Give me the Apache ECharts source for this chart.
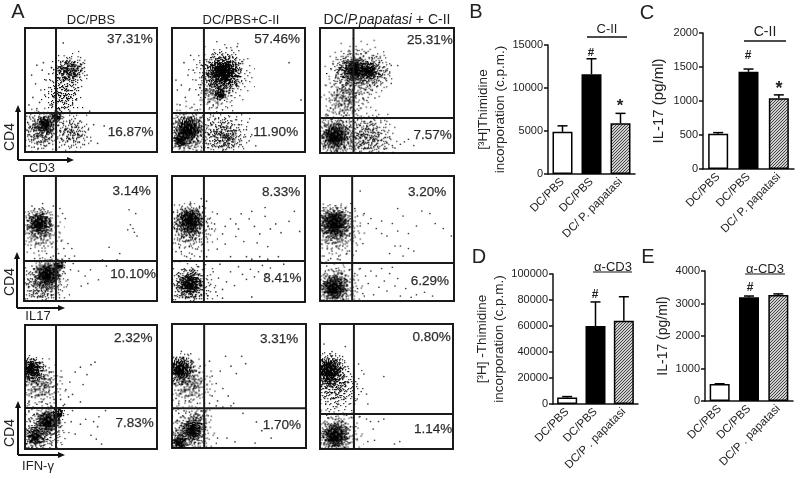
<!DOCTYPE html>
<html><head><meta charset="utf-8">
<style>html,body{margin:0;padding:0;background:#fff}#c{width:800px;height:479px}</style>
<script src="https://cdn.jsdelivr.net/npm/echarts@6/dist/echarts.min.js"></script>
</head><body><div id="c"></div>
<script>
// ---------- Bar panels ----------
const catsC2 = ['DC/PBS','DC/PBS','DC/ P. papatasi'];
const catsCD3 = ['DC/PBS','DC/PBS','DC/P . papatasi'];
const thymidineCII = [4900,11600,5900];
const thymidineCIITop = [5600,13400,7050];
const il17CII = [520,1430,1040];
const il17CIITop = [535,1470,1090];
const thymidineCD3 = [5000,60000,64000];
const thymidineCD3Top = [5700,78500,82500];
const il17CD3 = [520,3190,3260];
const il17CD3Top = [530,3230,3295];

// ---------- Flow cytometry percentages ----------
const pctUpper = ['37.31%','57.46%','25.31%','3.14%','8.33%','3.20%','2.32%','3.31%','0.80%'];
const pctLower = ['16.87%','11.90%','7.57%','10.10%','8.41%','6.29%','7.83%','1.70%','1.14%'];
const gateX = [23.5,24,25,24,24,24,23.5,24,25.5];
const gateY = [31.5,31.5,28,32,32.5,30.4,33,32,28];

// ---------- Flow cytometry events (x%, y% pairs) ----------
const dotsA1 = [26,66,28,63,30,68,31,60,33,70,34,64,35,67,36,61,37,72,38,66,39,62,40,69,41,64,42,71,29,58,32,55,27,72,34,74,37,58,43,66,44,72,25,60,31,73,36,69,33,58,40,58,45,68,28,69,30,64,35,62,24,50,27,48,29,52,31,46,33,50,35,44,30,40,26,42,28,36,32,36,36,38,38,47,34,33,25,35,40,52,22,44,37,52,39,42,5,62,9,70,13,66,8,55,12,50,16,58,18,63,20,68,6,44,11,40,15,46,18,52,3,38,9,35,19,38,21,57,14,72,3,5,5,10,7,14,9,8,11,18,13,12,15,22,17,16,19,26,4,20,6,25,8,20,10,26,12,6,14,28,16,10,18,20,20,12,21,30,3,14,7,4,10,3,2,24,13,17,16,25,19,30,22,28,21,24,15,5,18,7,26,4,28,10,30,6,33,14,35,4,37,9,39,20,41,8,43,13,45,6,27,17,29,23,31,19,34,25,36,16,38,27,47,12,48,18,50,9,42,25,52,22,55,7,32,9,26,26,29,88,47,62,49,33,60,21];
const dotsA2 = [28,72,30,66,32,62,34,74,36,68,38,78,40,60,42,72,44,66,46,76,48,62,50,70,33,56,35,52,37,48,39,44,41,54,43,50,30,52,28,58,26,64,25,44,27,40,31,38,34,36,38,34,36,42,44,58,47,56,52,66,53,73,45,82,49,85,41,84,9,72,12,62,7,54,14,78,16,66,4,50,10,44,18,58,20,46,22,70,6,38,15,36,19,34,21,52,3,58,13,50,2,20,3,8,4,28,5,14,6,3,7,24,8,10,9,30,10,5,11,16,12,27,13,7,14,22,15,12,16,29,17,4,18,18,19,26,20,9,21,20,22,28,3,24,5,6,8,18,11,22,13,3,16,16,18,6,20,25,22,13,26,7,28,14,30,22,32,5,34,18,36,9,38,24,40,13,42,4,44,19,46,8,48,15,50,22,52,6,54,12,56,18,33,12,35,24,37,16,39,6,41,21,43,11,45,25,47,17,58,9,60,14,28,26,31,29,57,24,63,5,97,42,88,72];
const dotsA3 = [20,72,18,64,22,68,24,60,26,74,28,62,30,76,32,66,34,58,36,72,38,62,40,70,42,64,44,68,46,74,48,60,50,66,16,70,14,66,12,62,23,54,25,50,27,46,29,56,31,52,33,48,35,42,37,54,39,50,41,44,19,52,17,48,15,56,21,42,13,50,23,36,26,34,29,38,32,44,8,36,11,42,6,30,16,38,18,32,28,82,34,80,40,78,45,76,52,64,58,70,4,6,6,14,8,22,10,4,12,10,14,18,16,26,18,5,20,13,22,21,3,24,5,18,7,9,9,27,11,16,13,6,15,23,17,11,19,19,21,8,23,25,2,12,24,16,26,5,28,14,30,22,32,8,34,17,36,4,38,12,40,20,42,7,44,15,46,10,48,3,50,8,52,13,54,6,56,4,60,7,63,9,66,11,25,26,33,24,38,25,70,6];
const dotsB1 = [4,70,6,62,8,74,10,56,12,66,14,78,16,60,18,72,20,64,22,76,7,52,9,46,11,40,13,50,15,44,17,38,19,52,21,46,5,42,4,54,22,36,20,35,12,34,8,34,14,70,18,55,6,76,3,64,27,74,29,70,31,66,26,60,28,48,33,46,30,42,26,38,34,34,36,42,31,36,38,36,2,24,4,8,5,18,6,28,7,4,8,14,9,24,10,6,11,18,12,28,13,10,14,3,15,20,16,13,18,8,19,26,20,16,21,5,22,22,23,12,3,14,7,21,10,12,12,22,25,26,27,20,29,28,31,22,33,17,35,25,37,30,41,24,43,12,46,20,48,14,50,25,56,17,59,33,62,28,72,38,70,33,79,73,84,70,80,61,82,58,83,55,85,52,78,57,64,43];
const dotsB2 = [4,58,6,70,8,52,10,74,12,60,14,78,16,68,18,56,20,72,22,64,5,46,7,40,9,48,11,36,13,44,15,38,17,50,19,42,21,36,23,46,3,62,22,82,23,76,3,40,26,80,28,66,27,60,30,58,32,62,34,70,38,54,40,60,44,66,48,62,50,58,54,48,58,66,62,60,66,54,70,68,74,58,78,62,82,55,88,64,92,72,96,56,60,72,52,70,70,75,44,36,48,52,34,42,40,46,64,47,72,44,56,36,60,34,66,36,72,34,80,36,84,30,36,30,26,36,3,5,5,20,7,10,9,26,11,4,12,18,14,8,16,24,18,13,20,28,22,6,4,14,8,4,17,3,21,17,27,5,29,14,31,24,33,8,35,19,38,3,41,16,44,24,47,13,50,28,53,22,56,18,59,26,62,20,65,24,68,29,71,22,74,27,60,4,38,10];
const dotsB3 = [4,68,7,58,10,72,13,54,16,68,19,74,21,62,23,78,6,46,9,40,11,50,14,36,17,44,20,38,22,52,3,36,5,54,12,44,18,54,22,40,8,34,15,33,26,74,28,68,30,60,33,70,36,62,38,66,42,58,46,64,50,52,54,62,58,56,62,68,66,54,72,60,76,72,82,70,86,62,92,58,98,52,60,44,66,42,70,40,52,38,56,44,62,36,27,40,32,46,46,54,58,74,30,88,4,24,6,8,8,18,10,3,12,26,14,12,16,22,18,6,20,17,22,25,3,14,5,28,23,8,26,22,28,10,30,26,32,6,36,14,38,24,40,5,42,20,44,11,46,26,48,16,50,8,52,22,54,27,56,12,58,18,60,4,64,10,68,3,72,5,78,7,84,4,34,20];
const dotsC1 = [2,58,4,72,6,50,8,66,10,44,12,58,14,68,16,52,18,46,20,62,22,40,5,42,9,36,13,38,17,36,21,50,15,44,3,38,19,56,7,60,11,70,28,58,31,48,34,54,38,62,42,66,44,52,47,60,50,68,27,40,30,36,33,42,36,44,53,70,42,38,29,35,2,6,4,22,5,14,7,28,8,4,9,18,11,10,12,24,14,3,15,16,17,8,18,28,19,13,20,4,22,20,3,30,26,24,28,30,27,18,35,22,38,12,42,20,46,24,50,11,52,22,55,18,56,26,54,8,58,4,61,31,36,31];
const dotsC2 = [2,52,4,66,6,44,8,72,10,38,12,56,14,76,16,48,18,62,20,42,22,54,5,36,9,46,13,38,17,54,21,66,15,68,3,40,19,36,7,78,28,70,30,58,33,52,36,62,38,48,40,74,44,66,48,60,52,74,55,68,42,42,34,38,30,42,28,36,33,34,38,33,44,34,46,36,2,4,3,14,4,22,5,28,6,9,7,18,8,26,10,5,11,13,12,21,13,29,15,6,16,24,17,11,18,28,19,16,20,4,21,22,22,30,23,9,3,30,9,30,14,18,27,26,25,30,34,8,41,8,53,28,47,5,63,21,62,4,74,8,67,14];
const dotsC3 = [3,84,5,72,7,66,9,78,11,58,13,70,15,62,17,74,19,82,21,66,4,46,6,38,8,52,10,34,12,44,14,36,16,50,18,40,20,46,22,36,3,54,7,30,21,54,23,60,19,52,12,34,17,58,29,68,33,60,28,52,31,46,35,44,36,36,28,40,26,36,48,58,35,24,28,8,27,18,30,26,38,22,40,16,3,4,4,20,5,12,6,25,7,6,9,18,10,3,12,26,14,8,16,21,18,14,20,27,22,5,23,18,24,25,20,8,2,14,44,22,48,24,36,6,41,7,56,4,60,6];

// ---------- Dense regions of each plot: x%, y%, width of the patch ----------
const coreA1 = [[24,29,10],[15,23,12]];
const hazeA1 = [[33,65,32],[33,66,24],[28,66,16],[38,68,16],[13,20,28],[13,18,40],[28,46,34],[36,16,30],[16,24,20]];
const coreA2 = [[38,65,30],[36,47,10],[12,19,24],[6,10,14]];
const hazeA2 = [[37,62,50],[12,16,48],[38,14,44],[32,48,28],[42,12,20]];
const coreA3 = [[26,67,20],[36,66,14],[11,14,24]];
const hazeA3 = [[28,65,50],[40,65,32],[20,66,30],[18,44,38],[11,14,50],[36,13,46]];
const coreB1 = [[11,63,22],[17,22,22],[26,29,10]];
const hazeB1 = [[12,56,38],[13,13,42],[18,20,30]];
const coreB2 = [[13,65,26],[13,15,22]];
const hazeB2 = [[13,58,42],[13,13,42]];
const coreB3 = [[10,63,28],[10,11,24]];
const hazeB3 = [[12,56,44],[12,12,42]];
const coreC1 = [[4,65,20],[17,23,22],[25,29,10],[7,10,16]];
const hazeC1 = [[11,53,40],[12,15,44],[6,62,24]];
const coreC2 = [[6,64,24],[15,15,20],[5,5,14]];
const hazeC2 = [[13,52,40],[12,12,42],[20,25,20]];
const coreC3 = [[6,63,28],[11,11,24]];
const hazeC3 = [[11,50,44],[12,12,42]];

const dotSets = [dotsA1,dotsA2,dotsA3,dotsB1,dotsB2,dotsB3,dotsC1,dotsC2,dotsC3];
const coreSets = [coreA1,coreA2,coreA3,coreB1,coreB2,coreB3,coreC1,coreC2,coreC3];
const hazeSets = [hazeA1,hazeA2,hazeA3,hazeB1,hazeB2,hazeB3,hazeC1,hazeC2,hazeC3];

// Label anchors inside each plot, percent of plot
const pctPosU = [[79.5,91],[79,91],[82,90],[81,88],[82,87],[80,87],[82,89],[80,88],[84,89]];
const pctPosL = [[80,16],[78,16],[84,14],[82,21],[83,19],[82,16],[83,21],[82,18],[85,16]];

const FONT = '"Liberation Sans", Arial, sans-serif';
const flowBoxes = [
  [25,28,132,124],[172,28,133,124],[320,28,134,125],
  [24,176,133,125],[172,176,133,126],[320,176,134,125],
  [25,325,132,124],[172,324,134,124],[320,324,133,125]
];

const grids=[], xAxes=[], yAxes=[], series=[];
function toPairs(f){const o=[];for(let i=0;i<f.length;i+=2)o.push([f[i],f[i+1]]);return o;}

// stippled texture used to fill a dense region: grain fades out from the middle
const stippleCache={};
function stipple(S,kind){
  const key=kind+S; if(stippleCache[key]) return stippleCache[key];
  const cv=document.createElement('canvas');cv.width=cv.height=S;const c=cv.getContext('2d');
  const n=Math.round((kind==='core'?0.5:0.085)*S*S);
  c.fillStyle='rgba(0,0,0,.9)';
  for(let i=0;i<n;i++){
    const u=Math.min((i+.5)/n,.98), r=S/4*Math.sqrt(-Math.log(1-u)), a=i*2.399963;
    const h=Math.sin(i*12.9898)*43758.5453, j=(h-Math.floor(h))-.5;
    const h2=Math.sin(i*78.233)*12543.123, j2=(h2-Math.floor(h2))-.5;
    c.fillRect(Math.round(S/2+r*Math.cos(a)+j*4),Math.round(S/2+r*Math.sin(a)+j2*4),1.2,1.2);
  }
  return stippleCache[key]=cv;
}
function patchSeries(i,data,kind){
  return {type:'custom',xAxisIndex:i,yAxisIndex:i,silent:true,z:2,data,clip:true,encode:{x:0,y:1},
    renderItem:(params,api)=>{
      const p=api.coord([api.value(0),api.value(1)]),S=Math.round(api.value(2)*1.35),cs=params.coordSys;
      return {type:'image',style:{image:stipple(S,kind),x:p[0]-S/2,y:p[1]-S/2,width:S,height:S},
        clipPath:{type:'rect',shape:{x:cs.x,y:cs.y,width:cs.width,height:cs.height}}};
    }};
}

flowBoxes.forEach((b,i)=>{
  grids.push({left:b[0],top:b[1],width:b[2],height:b[3],show:true,borderColor:'#1a1a1a',borderWidth:2,backgroundColor:'#fff'});
  xAxes.push({gridIndex:i,type:'value',min:0,max:100,show:false});
  yAxes.push({gridIndex:i,type:'value',min:0,max:100,show:false});
  const c={xAxisIndex:i,yAxisIndex:i,silent:true};
  series.push(patchSeries(i,hazeSets[i],'haze'));
  series.push(patchSeries(i,coreSets[i],'core'));
  series.push({...c,type:'scatter',data:toPairs(dotSets[i]),symbolSize:1.7,itemStyle:{color:'#111'},z:3});
  series.push({...c,type:'line',data:[[gateX[i],0],[gateX[i],100]],symbol:'none',lineStyle:{color:'#1a1a1a',width:2},z:4});
  series.push({...c,type:'line',data:[[0,gateY[i]],[100,gateY[i]]],symbol:'none',lineStyle:{color:'#1a1a1a',width:2},z:4});
  const lab=(pos,t)=>({...c,type:'scatter',symbolSize:0,data:[pos],z:5,
    label:{show:true,position:'inside',formatter:t,fontFamily:FONT,fontSize:13.5,color:'#000',fontWeight:'normal',textBorderColor:'#000',textBorderWidth:.25}});
  series.push(lab(pctPosU[i],pctUpper[i]));
  series.push(lab(pctPosL[i],pctLower[i]));
});

// hatch pattern for the third bar
const hatch=document.createElement('canvas');hatch.width=3;hatch.height=3;
(function(){const g=hatch.getContext('2d');g.fillStyle='#cfcfcf';g.fillRect(0,0,3,3);g.fillStyle='#444';
 g.fillRect(0,2,1,1);g.fillRect(1,1,1,1);g.fillRect(2,0,1,1);})();

const barPanels=[
 {box:[548,45,87,129],cats:catsC2,vals:thymidineCII,tops:thymidineCIITop,max:15000,step:5000,name:'[³H]Thimidine\nincorporation (c.p.m.)',gap:30,fs:13.5},
 {box:[703,33,91,136],cats:catsC2,vals:il17CII,tops:il17CIITop,max:2000,step:500,name:'IL-17 (pg/ml)',gap:36,fs:15},
 {box:[553,274,85,130],cats:catsCD3,vals:thymidineCD3,tops:thymidineCD3Top,max:100000,step:20000,name:'[³H] -Thimidine\nincorporation (c.p.m.)',gap:39,fs:13.5},
 {box:[705,271,88,130],cats:catsCD3,vals:il17CD3,tops:il17CD3Top,max:4000,step:1000,name:'IL-17 (pg/ml)',gap:33,fs:14}
];
barPanels.forEach((p,k)=>{
  const i=grids.length;
  grids.push({left:p.box[0],top:p.box[1],width:p.box[2],height:p.box[3]});
  xAxes.push({gridIndex:i,type:'category',data:p.cats,axisTick:{show:false},
    axisLine:{lineStyle:{color:'#111',width:1.5}},
    axisLabel:{rotate:45,interval:0,fontFamily:FONT,fontSize:11.5,color:'#222',margin:6}});
  yAxes.push({gridIndex:i,type:'value',min:0,max:p.max,interval:p.step,splitLine:{show:false},
    axisLine:{show:true,lineStyle:{color:'#111',width:1.5}},axisTick:{show:true,length:4,lineStyle:{color:'#111',width:1.5}},
    axisLabel:{fontFamily:FONT,fontSize:11,color:'#222',margin:5,formatter:v=>String(v)},
    name:p.name,nameLocation:'middle',nameGap:p.gap,nameTextStyle:{fontFamily:FONT,fontSize:p.fs,color:'#222',lineHeight:17}});
  const fills=['#fff','#000',{image:hatch,repeat:'repeat'}];
  series.push({type:'bar',xAxisIndex:i,yAxisIndex:i,barWidth:20,silent:true,
    data:p.vals.map((v,j)=>({value:v,itemStyle:{color:fills[j],borderColor:'#000',borderWidth:1.5}}))});
  series.push({type:'custom',xAxisIndex:i,yAxisIndex:i,silent:true,z:1,
    data:p.vals.map((v,j)=>[j,v,p.tops[j]]),encode:{x:0,y:[1,2]},
    renderItem:(params,api)=>{
      const a=api.coord([api.value(0),api.value(1)]),b=api.coord([api.value(0),api.value(2)]);
      const st={stroke:'#000',lineWidth:1.5,fill:'none'};
      return {type:'group',children:[
        {type:'line',shape:{x1:a[0],y1:a[1],x2:b[0],y2:b[1]},style:st},
        {type:'line',shape:{x1:a[0]-5,y1:b[1],x2:a[0]+5,y2:b[1]},style:st}]};
    }});
});

// text and decorations
const g=[];
function T(x,y,text,size,extra){g.push({type:'text',x,y,silent:true,z:20,rotation:(extra&&extra.rot)||0,
  style:{text,fontFamily:FONT,fontSize:size,fill:'#222',align:'center',verticalAlign:'middle',...(extra&&extra.style)}});}
function L(x1,y1,x2,y2,w){g.push({type:'line',silent:true,z:20,shape:{x1,y1,x2,y2},style:{stroke:'#111',lineWidth:w||1.5}});}
function arrows(x,yBottom,yTop,xRight){
  L(x,yBottom,x,yTop+3,2);L(x,yBottom,xRight-3,yBottom,2);
  g.push({type:'polygon',silent:true,z:20,shape:{points:[[x,yTop-2],[x-3,yTop+5],[x+3,yTop+5]]},style:{fill:'#111'}});
  g.push({type:'polygon',silent:true,z:20,shape:{points:[[xRight+2,yBottom],[xRight-5,yBottom-3],[xRight-5,yBottom+3]]},style:{fill:'#111'}});
}
T(18,12,'A',20);T(476,12,'B',20);T(647,13,'C',20);T(479,257,'D',20);T(648,257,'E',20);
T(91,20,'DC/PBS',13);T(241,20,'DC/PBS+C-II',13);
T(387,20,'DC/{i|P.papatasi} + C-II',14,{style:{rich:{i:{fontStyle:'italic',fontFamily:FONT,fontSize:14,fill:'#222'}}}});
arrows(18,160,107,72);arrows(17,308,254,63);arrows(18,455,403,63);
const R={rot:Math.PI/2};
T(10,137,'CD4',14,R);T(10,282,'CD4',14,R);T(10,433,'CD4',14,R);
T(42,168,'CD3',13);T(38,316,'IL17',13);T(38,466,'IFN-γ',13);
T(607,29,'C-II',13);L(587,37,627,37);
T(765,32,'C-II',14);L(744,41,786,41);
T(613,267,'α-CD3',13);L(593,272,632,272,1.2);
T(765,269,'α-CD3',13);L(745,274,785,274,1.2);
T(591,53,'#',11.5,{style:{fontWeight:'bold'}});T(620,106,'*',17,{style:{fontWeight:'bold'}});
T(748,56,'#',12,{style:{fontWeight:'bold'}});T(779,89,'*',18,{style:{fontWeight:'bold'}});
T(595,295,'#',12,{style:{fontWeight:'bold'}});T(750,288,'#',12,{style:{fontWeight:'bold'}});

const chart=echarts.init(document.getElementById('c'),null,{renderer:'canvas'});
chart.setOption({animation:false,backgroundColor:'#fff',tooltip:{show:false},
  grid:grids,xAxis:xAxes,yAxis:yAxes,series,graphic:g});
</script></body></html>
